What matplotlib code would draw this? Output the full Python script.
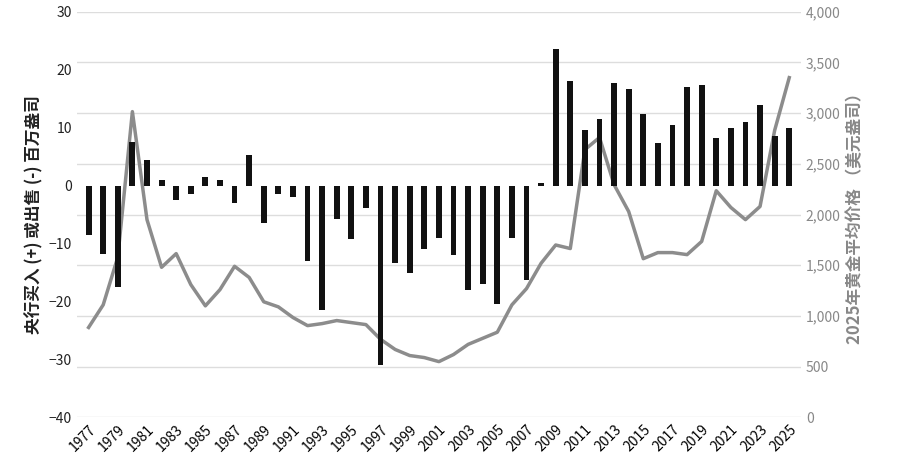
import matplotlib
matplotlib.use("Agg")
import matplotlib.pyplot as plt

plt.rcParams["font.family"] = ["Noto Sans CJK SC", "DejaVu Sans"]
plt.rcParams["font.weight"] = "medium"

years = list(range(1977, 2026))
net_purchases = [-8.5, -11.8, -17.5, 7.5, 4.5, 1.0, -2.5, -1.5, 1.5, 1.0,
                 -3.0, 5.3, -6.5, -1.5, -2.0, -13.0, -21.5, -5.8, -9.3, -3.8,
                 -31.0, -13.3, -15.0, -11.0, -9.0, -12.0, -18.0, -17.0, -20.5, -9.0,
                 -16.3, 0.5, 23.5, 18.0, 9.6, 11.5, 17.7, 16.6, 12.3, 7.3,
                 10.5, 17.0, 17.3, 8.2, 10.0, 11.0, 13.9, 8.5, 10.0]
gold_price = [887, 1110, 1580, 3015, 1950, 1480, 1615, 1310, 1100, 1260,
              1490, 1380, 1140, 1090, 985, 905, 925, 955, 935, 915,
              770, 670, 610, 590, 550, 620, 720, 780, 840, 1110,
              1270, 1520, 1700, 1665, 2640, 2760, 2295, 2030, 1565, 1625,
              1625, 1605, 1735, 2235, 2070, 1950, 2080, 2830, 3350]

fig, ax = plt.subplots(figsize=(9.05, 4.69), dpi=100)
ax2 = ax.twinx()
ax.set_zorder(ax2.get_zorder() + 1)
ax.patch.set_visible(False)

ax.bar(years, net_purchases, width=0.4, color="#111111", zorder=3)
ax2.plot(years, gold_price, color="#8c8c8c", linewidth=2.5)

ax.set_ylim(-40, 30)
ax.set_yticks(range(-40, 31, 10))
ax2.set_ylim(0, 4000)
ax2.set_yticks(range(0, 4001, 500))
ax2.set_yticklabels([f"{v:,}" for v in range(0, 4001, 500)])
ax.set_xlim(1976.2, 2025.8)
ax.set_xticks(years[::2])
ax.set_xticklabels([str(y) for y in years[::2]], rotation=45, ha="right",
                   rotation_mode="anchor")
ax2.grid(axis="y", color="#dddddd", linewidth=1)

for a in (ax, ax2):
    for s in a.spines.values():
        s.set_visible(False)
    a.tick_params(length=0, labelsize=10)
ax.tick_params(axis="y", colors="#222222")
ax2.tick_params(axis="y", colors="#888888")

ax.set_ylabel("央行买入 (+) 或出售 (-) 百万盎司", fontsize=12, fontweight="bold",
              color="#222222")
ax2.set_ylabel("2025年黄金平均价格 （美元盎司）", fontsize=12, fontweight="bold",
               color="#888888")

fig.subplots_adjust(left=0.085, right=0.885, top=0.975, bottom=0.11)
fig.savefig("out.png", dpi=100)
